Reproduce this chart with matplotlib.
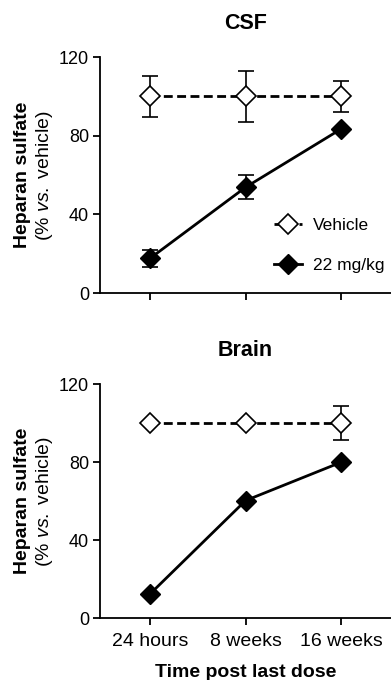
import matplotlib
matplotlib.use("Agg")
import matplotlib.pyplot as plt
from matplotlib.lines import Line2D

plt.rcParams['font.family'] = ['Liberation Sans', 'DejaVu Sans']
plt.rcParams['mathtext.fontset'] = 'custom'
plt.rcParams['mathtext.rm'] = 'Liberation Sans'
plt.rcParams['mathtext.it'] = 'Liberation Sans:italic'

categories = ["24 hours", "8 weeks", "16 weeks"]
csf_vehicle = [100, 100, 100]
csf_vehicle_err = [10.5, 12.8, 8.0]
csf_dose = [17.6, 53.8, 83.5]
csf_dose_err = [4.2, 6.0, 0.0]
brain_vehicle = [100, 100, 100]
brain_vehicle_err = [0.0, 0.0, 8.8]
brain_dose = [12.3, 60.3, 80.0]
brain_dose_err = [0.0, 0.0, 0.0]
yticks = [0, 40, 80, 120]

fig = plt.figure(figsize=(3.91, 6.80), dpi=100)
ax1 = fig.add_axes([0.256, 0.569, 0.744, 0.347])
ax2 = fig.add_axes([0.256, 0.091, 0.744, 0.344])

x = list(range(len(categories)))

def draw(ax, title, veh, veh_err, dose, dose_err, show_xlabels):
    ax.errorbar(x, veh, yerr=veh_err, color='black', linestyle=(0, (3.2, 1.6)), linewidth=2,
                marker='D', markersize=10, markerfacecolor='white', markeredgecolor='black',
                markeredgewidth=1.2, capsize=6, elinewidth=1.2, capthick=1.2, zorder=3)
    ax.errorbar(x, dose, yerr=dose_err, color='black', linestyle='-', linewidth=2,
                marker='D', markersize=10, markerfacecolor='black', markeredgecolor='black',
                capsize=6, elinewidth=1.2, capthick=1.2, zorder=4)
    ax.set_xlim(-0.52, 2.52)
    ax.set_ylim(0, 120)
    ax.set_yticks(yticks)
    ax.set_xticks(x)
    if show_xlabels:
        ax.set_xticklabels(categories)
    else:
        ax.set_xticklabels([])
    for s in ['top', 'right']:
        ax.spines[s].set_visible(False)
    for s in ['left', 'bottom']:
        ax.spines[s].set_linewidth(1.3)
    ax.tick_params(axis='y', direction='out', length=5, width=1.3, labelsize=13,
                   colors='black', pad=3)
    ax.tick_params(axis='x', direction='out', length=5, width=1.3, labelsize=14,
                   colors='black', pad=6)
    ax.set_title(title, fontsize=15.5, fontweight='bold', pad=20)
    ax.text(-0.268, 0.5, "Heparan sulfate", transform=ax.transAxes, rotation=90,
            ha='center', va='center', fontsize=14, fontweight='bold')
    ax.text(-0.19, 0.5, r"(% $\mathit{vs.}$ vehicle)", transform=ax.transAxes, rotation=90,
            ha='center', va='center', fontsize=14)

draw(ax1, "CSF", csf_vehicle, csf_vehicle_err, csf_dose, csf_dose_err, False)
draw(ax2, "Brain", brain_vehicle, brain_vehicle_err, brain_dose, brain_dose_err, True)
ax2.set_xlabel("Time post last dose", fontsize=14, fontweight='bold', labelpad=10)

handles = [
    Line2D([], [], color='black', linestyle=(0, (3, 1.5)), linewidth=2, marker='D', markersize=10,
           markerfacecolor='white', markeredgecolor='black', markeredgewidth=1.2),
    Line2D([], [], color='black', linestyle='-', linewidth=2, marker='D', markersize=10,
           markerfacecolor='black', markeredgecolor='black'),
]
ax1.legend(handles, ["Vehicle", "22 mg/kg"], loc='lower right', bbox_to_anchor=(1.03, 0.02),
           frameon=False, fontsize=12.5, handlelength=1.6, handletextpad=0.6, labelspacing=1.4)

fig.savefig("out.png", dpi=100)
